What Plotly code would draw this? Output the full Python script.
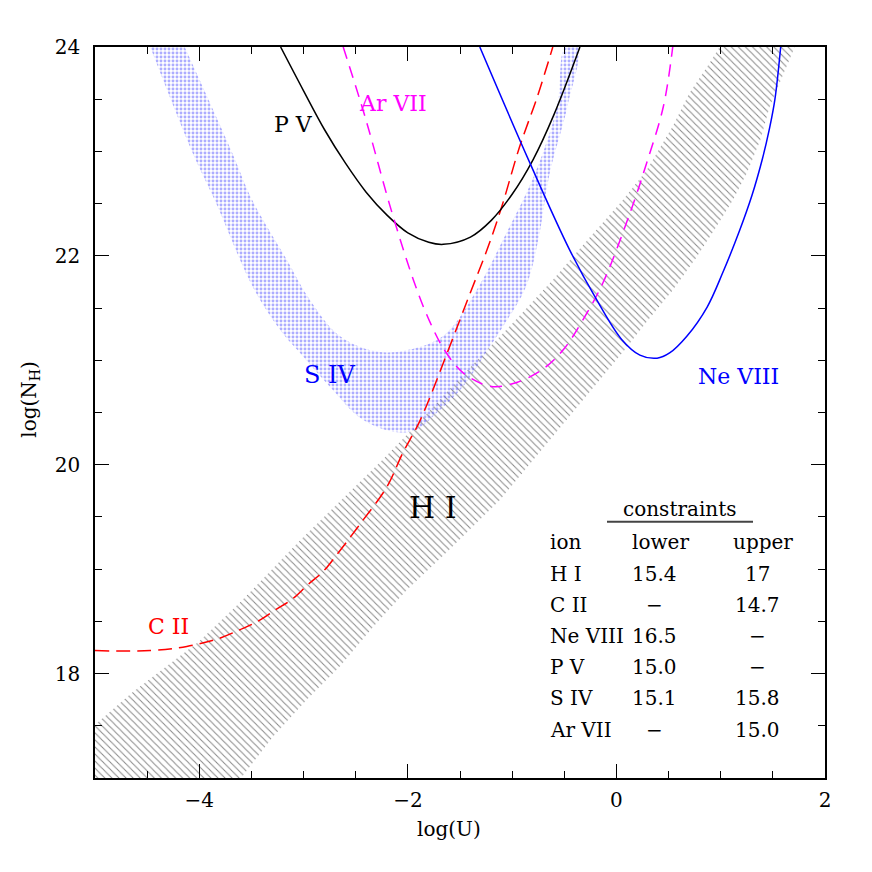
import plotly.graph_objects as go

# ---------------- data ----------------
# H I band (hatched)
hi_upper_x = [-5.0, -4.64, -4.0, -3.61, -3.03, -2.24, -1.9, -1.53, -1.0, -0.6, -0.28, 0.05, 0.29, 0.54, 0.70, 0.87, 0.99]
hi_upper_y = [17.51, 17.82, 18.31, 18.68, 19.28, 20.05, 20.4, 20.8, 21.35, 21.78, 22.15, 22.52, 22.82, 23.24, 23.56, 23.81, 24.0]
hi_lower_x = [-3.6, -3.29, -2.97, -2.65, -2.33, -2.01, -1.63, -1.12, -0.8, -0.42, 0.08, 0.3, 0.54, 0.77, 0.96, 1.12, 1.25, 1.38, 1.47, 1.57, 1.71]
hi_lower_y = [17.0, 17.4, 17.75, 18.07, 18.45, 18.8, 19.16, 19.66, 20.05, 20.5, 21.1, 21.38, 21.67, 21.99, 22.28, 22.54, 22.79, 23.11, 23.43, 23.66, 24.0]

# S IV band (dotted)
siv_outer_x = [-4.47, -4.07, -3.85, -3.48, -3.2, -3.06, -2.75, -2.43, -2.1, -1.91, -1.72, -1.47, -1.28, -1.09, -0.87, -0.75, -0.64, -0.47, -0.37]
siv_outer_y = [24.0, 23.0, 22.53, 21.69, 21.26, 21.1, 20.75, 20.43, 20.31, 20.34, 20.5, 20.75, 21.03, 21.32, 21.7, 22.15, 22.79, 23.43, 24.0]
siv_inner_x = [-4.14, -3.69, -3.49, -3.16, -2.94, -2.65, -2.27, -1.88, -1.63, -1.33, -1.09, -0.78, -0.57, -0.49]
siv_inner_y = [24.0, 23.0, 22.53, 21.96, 21.58, 21.23, 21.08, 21.13, 21.26, 21.69, 22.15, 22.79, 23.43, 24.0]

# C II (red dashed)
cii_x = [-5.0, -4.47, -4.12, -3.83, -3.61, -3.44, -3.27, -3.1, -2.96, -2.81, -2.68, -2.46, -2.2, -2.05,
         -1.88, -1.6, -1.4, -1.24, -1.1, -0.93, -0.76, -0.61]
cii_y = [18.22, 18.22, 18.26, 18.33, 18.42, 18.5, 18.61, 18.72, 18.85, 18.98, 19.14, 19.43, 19.79, 20.11,
         20.43, 21.13, 21.65, 22.06, 22.47, 23.04, 23.52, 24.0]

# P V (black solid)
pv_x = [-3.22, -3.0, -2.8, -2.6, -2.4, -2.2, -2.0, -1.8, -1.66, -1.4, -1.2, -1.0, -0.8, -0.6, -0.35]
pv_y = [24.0, 23.58, 23.21, 22.89, 22.61, 22.39, 22.22, 22.13, 22.11, 22.18, 22.34, 22.59, 22.92, 23.35, 24.0]

# Ar VII (magenta dashed)
ar_x = [-2.62, -2.41, -2.16, -1.94, -1.79, -1.65, -1.47, -1.2, -0.95, -0.7, -0.51, -0.32, -0.13, 0.13, 0.29, 0.45, 0.54]
ar_y = [24.0, 23.33, 22.44, 21.75, 21.37, 21.1, 20.88, 20.75, 20.79, 20.92, 21.1, 21.39, 21.74, 22.41, 22.89, 23.43, 24.0]

# Ne VIII (blue solid)
ne_x = [-1.31, -0.83, -0.45, -0.19, 0.05, 0.225, 0.39, 0.51, 0.675, 0.87, 1.02, 1.18, 1.30, 1.40, 1.47, 1.52, 1.575]
ne_y = [24.0, 22.89, 22.06, 21.58, 21.2, 21.05, 21.02, 21.07, 21.23, 21.51, 21.84, 22.24, 22.58, 22.93, 23.23, 23.5, 24.0]

# constraints table
table_title = "constraints"
table_header = ["ion", "lower", "upper"]
table_ions = ["H I", "C II", "Ne VIII", "P V", "S IV", "Ar VII"]
table_lower = ["15.4", "−", "16.5", "15.0", "15.1", "−"]
table_upper = ["17", "14.7", "−", "−", "15.8", "15.0"]

# curve labels
label_text = ["P V", "Ar VII", "S IV", "Ne VIII", "H I", "C II"]
label_x = [-3.10, -2.14, -2.75, 1.17, -1.76, -4.30]
label_y = [23.26, 23.46, 20.86, 20.84, 19.59, 18.45]
label_color = ["black", "#ff00ff", "#0000ff", "#0000ff", "black", "#ff0000"]
label_size = [22, 22, 24, 22, 30, 22]

X_RANGE = [-5, 2]
Y_RANGE = [17, 24]
FONT = "DejaVu Serif"

# ---------------- figure ----------------
fig = go.Figure()

# H I band polygon
hx = [X_RANGE[0]] + hi_upper_x + hi_lower_x[::-1]
hy = [Y_RANGE[0]] + hi_upper_y + hi_lower_y[::-1]
fig.add_trace(go.Scatter(
    x=hx, y=hy, mode="lines", fill="toself",
    line=dict(width=0, color="rgba(0,0,0,0)"),
    fillcolor="rgba(0,0,0,0)",
    fillpattern=dict(shape="\\", size=5, solidity=0.2, fgcolor="#111111",
                     bgcolor="rgba(0,0,0,0)", fillmode="overlay"),
    hoverinfo="skip", showlegend=False))

# S IV band polygon
sx = siv_outer_x + siv_inner_x[::-1]
sy = siv_outer_y + siv_inner_y[::-1]
fig.add_trace(go.Scatter(
    x=sx, y=sy, mode="lines", fill="toself", line_shape="spline",
    line=dict(width=0, color="rgba(0,0,0,0)"),
    fillcolor="rgba(0,0,0,0)",
    fillpattern=dict(shape=".", size=4, solidity=0.42, fgcolor="#5c5cff",
                     bgcolor="rgba(0,0,0,0)", fillmode="overlay"),
    hoverinfo="skip", showlegend=False))

def curve(x, y, color, dash):
    fig.add_trace(go.Scatter(x=x, y=y, mode="lines", line_shape="spline",
                             line=dict(color=color, width=1.5, dash=dash),
                             hoverinfo="skip", showlegend=False))

curve(cii_x, cii_y, "#ff0000", "14px,7px")
curve(pv_x, pv_y, "black", "solid")
curve(ar_x, ar_y, "#ff00ff", "12px,8px")
curve(ne_x, ne_y, "#0000ff", "solid")

# pixel helpers for annotation placement (relative to the plot frame)
L, R, T, B = 95, 825, 47, 778.5
def px2x(px):
    return X_RANGE[0] + (px - L) / (R - L) * (X_RANGE[1] - X_RANGE[0])
def py2y(py):
    return Y_RANGE[0] + (B - py) / (B - T) * (Y_RANGE[1] - Y_RANGE[0])
def px2paper(px):
    return (px - L) / (R - L)
def py2paper(py):
    return (B - py) / (B - T)

ann = []
for t, x, y, c, s in zip(label_text, label_x, label_y, label_color, label_size):
    ann.append(dict(x=x, y=y, text=t, showarrow=False,
                    font=dict(family=FONT, size=s, color=c)))

# table
tfont = dict(family=FONT, size=20, color="black")
ann.append(dict(x=px2x(680), y=py2y(509), text=table_title, showarrow=False, font=tfont))
ann.append(dict(x=px2x(548), y=py2y(542), text=table_header[0], showarrow=False,
                xanchor="left", font=tfont))
ann.append(dict(x=px2x(660), y=py2y(542), text=table_header[1], showarrow=False, font=tfont))
ann.append(dict(x=px2x(763), y=py2y(542), text=table_header[2], showarrow=False, font=tfont))
for i, (ion, lo, up) in enumerate(zip(table_ions, table_lower, table_upper)):
    py = 574 + 31.2 * i
    ann.append(dict(x=px2x(548), y=py2y(py), text=ion, showarrow=False, xanchor="left", font=tfont))
    ann.append(dict(x=px2x(654), y=py2y(py), text=lo, showarrow=False, font=tfont))
    ann.append(dict(x=px2x(757), y=py2y(py), text=up, showarrow=False, font=tfont))

# axis titles (paper coordinates so they are drawn outside the frame)
ann.append(dict(x=px2paper(449), y=py2paper(830), xref="paper", yref="paper",
                xanchor="center", yanchor="middle",
                text="log(U)", showarrow=False,
                font=dict(family=FONT, size=20, color="black")))
ann.append(dict(x=px2paper(30), y=py2paper(400), xref="paper", yref="paper",
                xanchor="center", yanchor="middle",
                text="log(N<sub>H</sub>)", showarrow=False, textangle=-90,
                font=dict(family=FONT, size=20, color="black")))

shapes = [dict(type="line", x0=px2x(607), x1=px2x(753), y0=py2y(522), y1=py2y(522),
               line=dict(color="#444444", width=2))]

axis_common = dict(showgrid=False, zeroline=False, showline=True, linecolor="black",
                   linewidth=1.5, mirror="ticks", ticks="inside", ticklen=14,
                   tickwidth=1.2, tickcolor="black",
                   tickfont=dict(family=FONT, size=20, color="black"))

# the page body adds an 8px offset, so margins are shifted to keep the frame in place
fig.update_layout(
    width=872, height=872,
    margin=dict(l=87, r=55, t=39, b=102),
    paper_bgcolor="white", plot_bgcolor="white",
    xaxis=dict(range=X_RANGE, dtick=2, tick0=0, ticklabelstandoff=3,
               minor=dict(dtick=0.5, ticklen=7, ticks="inside", tickcolor="black", tickwidth=1.2),
               **axis_common),
    yaxis=dict(range=Y_RANGE, dtick=2, tick0=0, ticklabelstandoff=9,
               minor=dict(dtick=0.5, ticklen=7, ticks="inside", tickcolor="black", tickwidth=1.2),
               **axis_common),
    annotations=ann, shapes=shapes,
)

fig.write_html("out.html")
